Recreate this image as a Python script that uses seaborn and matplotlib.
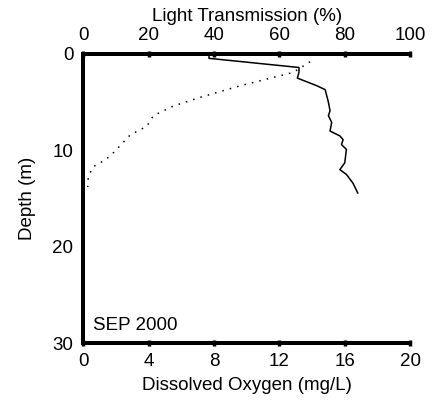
import matplotlib
matplotlib.use("Agg")
import matplotlib.pyplot as plt
import numpy as np
import pandas as pd
import seaborn as sns

# dissolved oxygen profile (solid line)
do_mgl = [7.7, 7.7, 13.2, 13.2, 13.1, 14.3, 14.8, 15.0, 15.1, 15.0, 15.2, 15.1,
          15.7, 15.9, 15.8, 16.1, 16.0, 15.7, 16.1, 16.5, 16.8]
do_depth = [0.0, 0.45, 1.4, 1.9, 2.5, 3.3, 3.7, 5.0, 5.9, 6.4, 7.1, 8.0,
            8.5, 8.9, 9.4, 9.9, 11.3, 12.0, 12.5, 13.4, 14.45]

# light transmission profile (dotted line)
light_pct = [69.4, 64.3, 56.2, 48.0, 35.8, 27.6, 21.5, 19.5, 14.4, 8.3, 6.2, 3.1, 1.6, 1.4]
light_depth = [0.8, 1.9, 2.6, 3.3, 4.5, 5.4, 6.4, 7.5, 8.4, 10.6, 11.1, 11.7, 12.7, 13.8]

do_ticks = [0, 4, 8, 12, 16, 20]
light_ticks = [0, 20, 40, 60, 80, 100]
depth_ticks = [0, 10, 20, 30]

sns.set_style("white")
plt.rcParams["font.family"] = ["Liberation Sans", "DejaVu Sans"]
plt.rcParams["font.size"] = 13.5
plt.rcParams["text.color"] = "black"
plt.rcParams["axes.labelcolor"] = "black"

do_df = pd.DataFrame({"DO": do_mgl, "Depth": do_depth})
light_df = pd.DataFrame({"Light": light_pct, "Depth": light_depth})

fig = plt.figure(figsize=(4.42, 4.0), dpi=100)
# axes box: x 83..410 px, y 54..343 px
ax = fig.add_axes([0.188, 0.1425, 0.74, 0.7225])

sns.lineplot(data=do_df, x="DO", y="Depth", sort=False, estimator=None,
             color="black", linewidth=1.1, ax=ax)
ax.set_xlim(0, 20)
ax.set_ylim(30, 0)
ax.set_xticks(do_ticks)
ax.set_yticks(depth_ticks)
ax.set_xlabel("Dissolved Oxygen (mg/L)", fontsize=13.5, labelpad=5.5)
ax.set_ylabel("Depth (m)", fontsize=13.5, labelpad=12)

ax2 = ax.twiny()
sns.lineplot(data=light_df, x="Light", y="Depth", sort=False, estimator=None,
             color="black", linewidth=1.1, linestyle=(0, (1, 4)), ax=ax2)
ax2.set_xlim(0, 100)
ax2.set_ylim(30, 0)
ax2.set_xticks(light_ticks)
ax2.set_xlabel("Light Transmission (%)", fontsize=13.5, labelpad=4.5)

for a in (ax, ax2):
    for side in ("top", "left", "bottom"):
        a.spines[side].set_linewidth(2.8)
        a.spines[side].set_color("black")
    a.spines["right"].set_visible(False)
    a.tick_params(direction="inout", length=4, width=2.5, colors="black",
                  labelsize=13.5, pad=5)

ax.text(0.03, 0.03, "SEP 2000", transform=ax.transAxes, fontsize=13.5, ha="left", va="bottom")

fig.savefig("out.png", dpi=100)
